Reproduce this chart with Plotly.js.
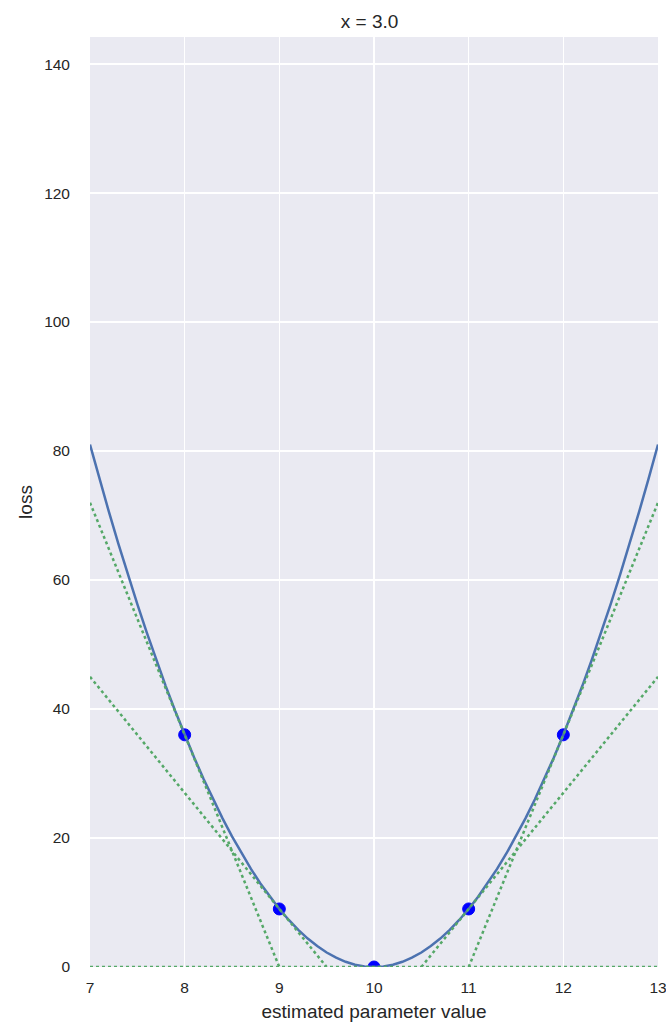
<!DOCTYPE html>
<html>
<head>
<meta charset="utf-8">
<script src="https://cdn.plot.ly/plotly-3.0.1.min.js"></script>
<style>html,body{margin:0;padding:0;background:#fff;}#chart{width:666px;height:1023px;}</style>
</head>
<body>
<div id="chart"></div>
<script>
// loss curve samples
const curveX = [7.0,7.1,7.2,7.3,7.4,7.5,7.6,7.7,7.8,7.9,8.0,8.1,8.2,8.3,8.4,8.5,8.6,8.7,8.8,8.9,9.0,9.1,9.2,9.3,9.4,9.5,9.6,9.7,9.8,9.9,10.0,10.1,10.2,10.3,10.4,10.5,10.6,10.7,10.8,10.9,11.0,11.1,11.2,11.3,11.4,11.5,11.6,11.7,11.8,11.9,12.0,12.1,12.2,12.3,12.4,12.5,12.6,12.7,12.8,12.9,13.0];
const curveY = [81,75.69,70.56,65.61,60.84,56.25,51.84,47.61,43.56,39.69,36,32.49,29.16,26.01,23.04,20.25,17.64,15.21,12.96,10.89,9,7.29,5.76,4.41,3.24,2.25,1.44,0.81,0.36,0.09,0,0.09,0.36,0.81,1.44,2.25,3.24,4.41,5.76,7.29,9,10.89,12.96,15.21,17.64,20.25,23.04,26.01,29.16,32.49,36,39.69,43.56,47.61,51.84,56.25,60.84,65.61,70.56,75.69,81];
// sampled points
const pointX = [8, 9, 10, 11, 12];
const pointY = [36, 9, 0, 9, 36];
// tangent line endpoints
const tangentX = [[7, 9], [7, 9.5], [7, 13], [10.5, 13], [11, 13]];
const tangentY = [[72, 0], [45, 0], [0, 0], [0, 45], [0, 72]];
const xTicks = [7, 8, 9, 10, 11, 12, 13];
const yTicks = [0, 20, 40, 60, 80, 100, 120, 140];

const traces = [];
traces.push({x: pointX, y: pointY, mode: 'markers', type: 'scatter',
  marker: {color: '#0000ff', size: 12, line: {color: '#0000ff', width: 1}},
  cliponaxis: true, hoverinfo: 'skip', showlegend: false});
traces.push({x: curveX, y: curveY, mode: 'lines', type: 'scatter',
  line: {color: '#4C72B0', width: 2.5}, cliponaxis: true, showlegend: false});
for (let i = 0; i < tangentX.length; i++) {
  traces.push({x: tangentX[i], y: tangentY[i], mode: 'lines', type: 'scatter',
    line: {color: '#55A868', width: 2.5, dash: 'dot'}, cliponaxis: true, showlegend: false});
}

const font = {family: '"Liberation Sans", Arial, sans-serif', color: '#262626'};
const layout = {
  width: 666, height: 1023,
  margin: {l: 90, r: 8, t: 37, b: 56, pad: 0},
  paper_bgcolor: '#ffffff', plot_bgcolor: '#EAEAF2',
  font: Object.assign({size: 15.5}, font),
  title: {text: 'x = 3.0', x: 0.555, xanchor: 'center', y: 0.9795, yanchor: 'middle',
    font: Object.assign({}, font, {size: 19})},
  xaxis: {range: [7, 13], tickvals: xTicks, ticktext: xTicks.map(String),
    showgrid: true, gridcolor: '#ffffff', gridwidth: 1.5, zeroline: false, showline: false,
    ticks: '', ticklabelstandoff: 9, ticklabeloverflow: 'allow', automargin: false,
    tickfont: Object.assign({}, font, {size: 15.5}),
    title: {text: 'estimated parameter value', standoff: 10, font: Object.assign({}, font, {size: 19})}},
  yaxis: {range: [0, 144.2], tickvals: yTicks, ticktext: yTicks.map(String),
    showgrid: true, gridcolor: '#ffffff', gridwidth: 1.5, zeroline: false, showline: false,
    ticks: '', ticklabelstandoff: 19, automargin: false, tickfont: Object.assign({}, font, {size: 15.5}),
    title: {text: 'loss', standoff: 6, font: Object.assign({}, font, {size: 19})}},
  showlegend: false
};
Plotly.newPlot('chart', traces, layout, {displayModeBar: false, staticPlot: true});
</script>
</body>
</html>
